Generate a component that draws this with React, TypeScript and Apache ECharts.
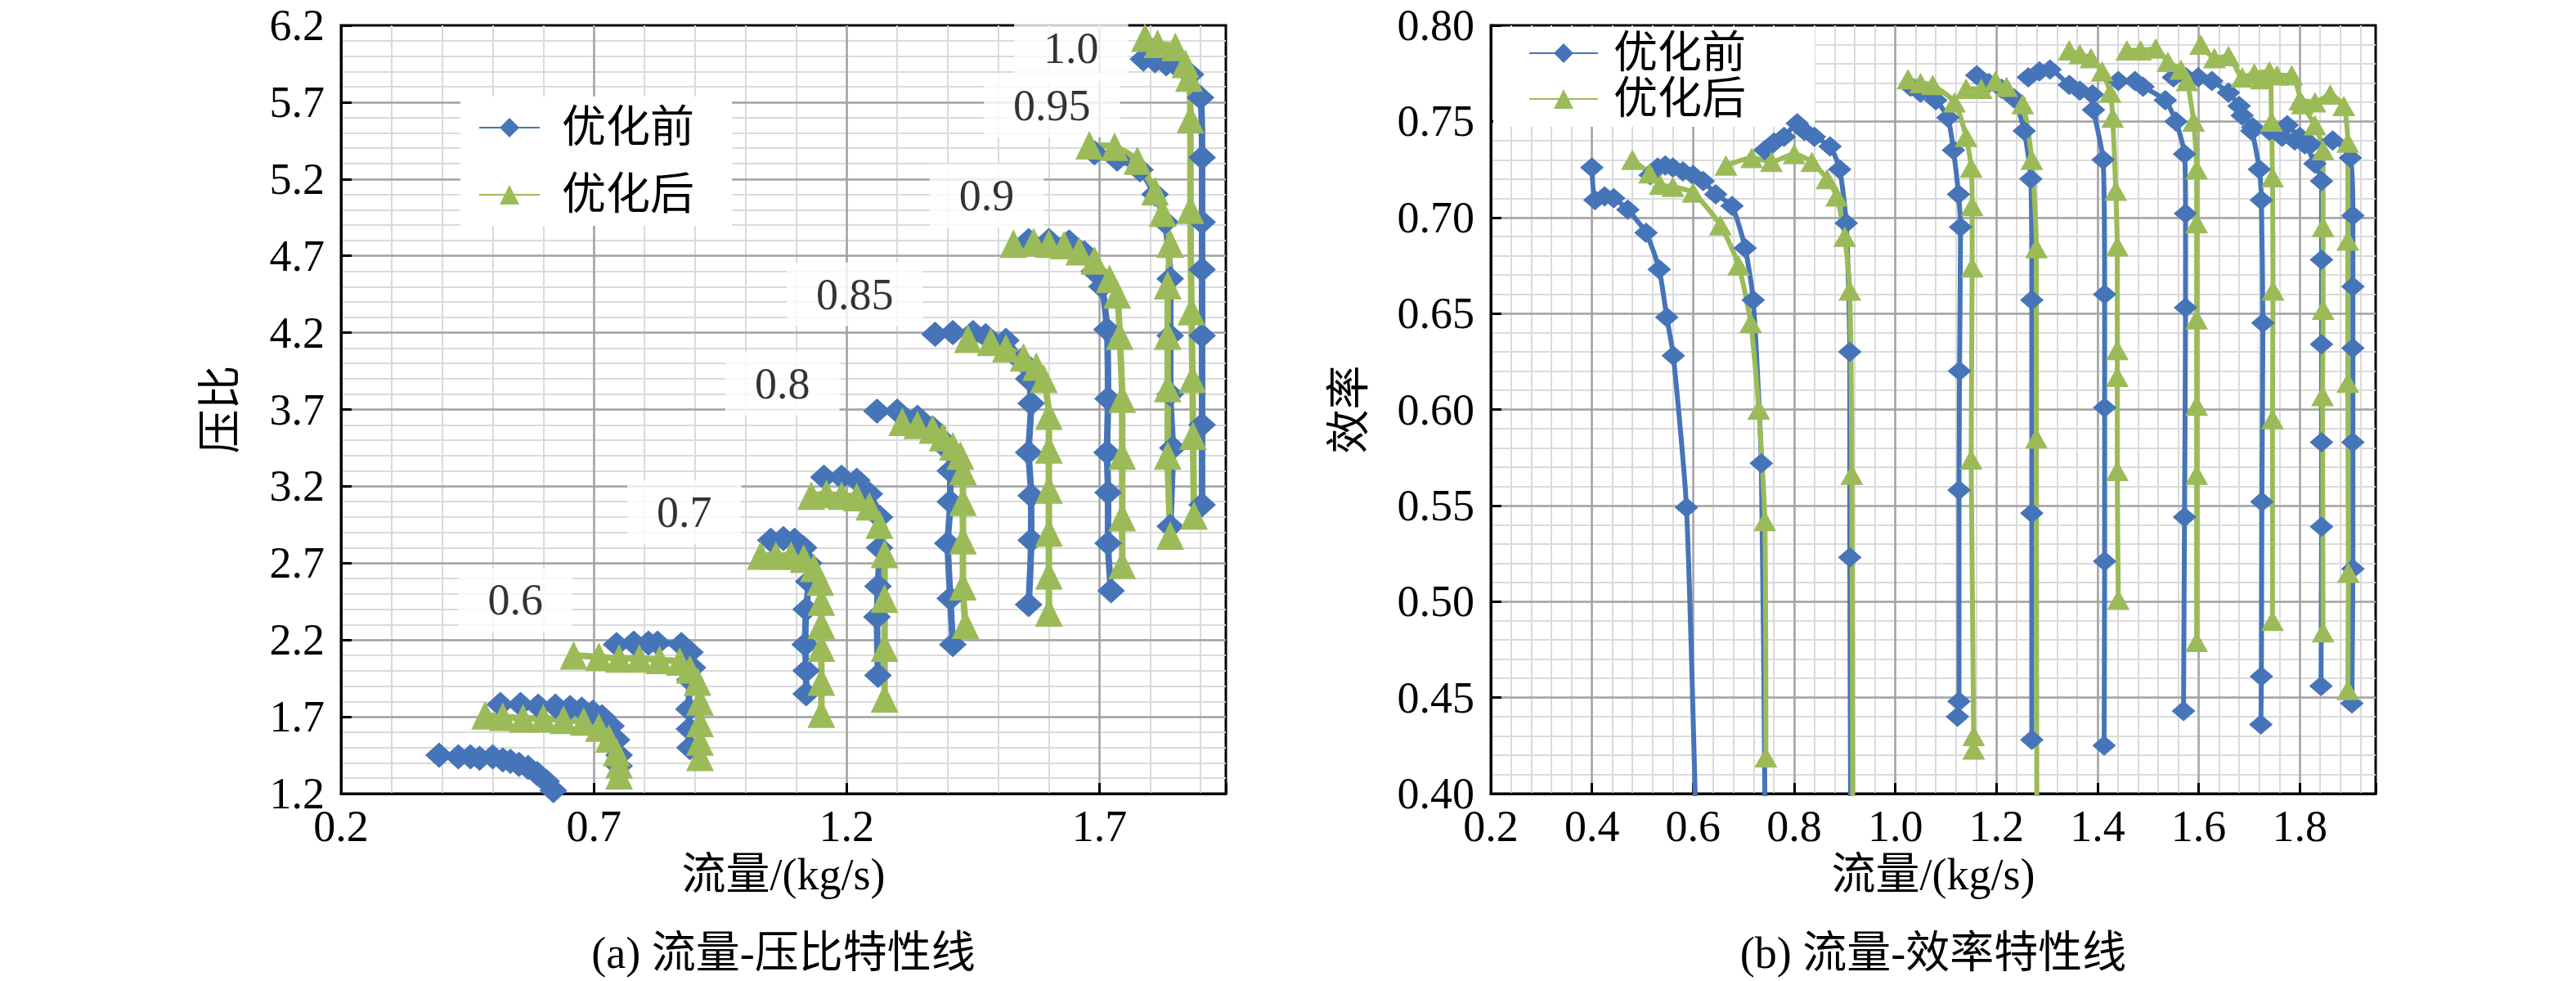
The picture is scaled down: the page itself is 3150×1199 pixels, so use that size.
import React, { useEffect, useRef } from "react";
import * as echarts from "echarts";

// ---------- tick labels ----------
const prFlowTicks = ["0.2", "0.7", "1.2", "1.7"];
const prTicks = ["1.2", "1.7", "2.2", "2.7", "3.2", "3.7", "4.2", "4.7", "5.2", "5.7", "6.2"];
const efFlowTicks = ["0.2", "0.4", "0.6", "0.8", "1.0", "1.2", "1.4", "1.6", "1.8"];
const efTicks = ["0.40", "0.45", "0.50", "0.55", "0.60", "0.65", "0.70", "0.75", "0.80"];

const legendNames = ["优化前", "优化后"];

// ---------- speed-line annotations (flow, pressure ratio) ----------
const speedLabels = ["1.0", "0.95", "0.9", "0.85", "0.8", "0.7", "0.6"];
const speedLabelFlow = [1.644, 1.606, 1.477, 1.216, 1.073, 0.879, 0.545];
const speedLabelPR = [6.05, 5.68, 5.09, 4.45, 3.87, 3.03, 2.46];

// ---------- flow vs pressure ratio : before (blue) ----------
const prA_b = [[0.394,1.45],[0.432,1.44],[0.456,1.44],[0.474,1.43],[0.5,1.44],[0.52,1.42],[0.535,1.41],[0.552,1.39],[0.57,1.37],[0.588,1.33],[0.606,1.28],[0.62,1.22],[0.63,1.15]];
const prB_b = [[0.515,1.78],[0.555,1.78],[0.59,1.77],[0.624,1.77],[0.653,1.76],[0.676,1.75],[0.698,1.73],[0.716,1.7],[0.734,1.64],[0.745,1.55],[0.75,1.45],[0.75,1.38]];
const prC_b = [[0.745,2.17],[0.779,2.18],[0.808,2.18],[0.826,2.18],[0.873,2.17],[0.89,2.12],[0.895,2.02],[0.89,1.94],[0.888,1.75],[0.889,1.62],[0.89,1.5]];
const prD_b = [[1.05,2.85],[1.075,2.86],[1.097,2.85],[1.115,2.8],[1.125,2.7],[1.125,2.58],[1.12,2.4],[1.118,2.17],[1.12,2.0],[1.12,1.85]];
const prE_b = [[1.155,3.26],[1.19,3.26],[1.22,3.24],[1.245,3.15],[1.265,3.0],[1.265,2.8],[1.262,2.55],[1.26,2.35],[1.262,1.97]];
const prF_b = [[1.26,3.69],[1.3,3.69],[1.34,3.65],[1.37,3.58],[1.39,3.5],[1.4,3.44],[1.405,3.3],[1.405,3.1],[1.4,2.83],[1.405,2.47],[1.41,2.17]];
const prG_b = [[1.375,4.19],[1.41,4.2],[1.45,4.2],[1.475,4.18],[1.515,4.15],[1.545,4.02],[1.56,3.9],[1.565,3.74],[1.56,3.42],[1.565,3.14],[1.565,2.85],[1.56,2.43]];
const prH_b = [[1.56,4.8],[1.6,4.8],[1.64,4.79],[1.67,4.72],[1.69,4.6],[1.705,4.5],[1.715,4.22],[1.717,3.77],[1.715,3.42],[1.717,3.16],[1.717,2.83],[1.723,2.52]];
const prI_b = [[1.69,5.37],[1.735,5.33],[1.78,5.26],[1.81,5.1],[1.83,4.92],[1.84,4.55],[1.84,4.18],[1.84,3.8],[1.845,3.45],[1.84,2.94]];
const prJ_b = [[1.787,5.98],[1.81,5.97],[1.832,5.95],[1.852,5.94],[1.88,5.88],[1.9,5.73],[1.903,5.34],[1.903,4.92],[1.903,4.61],[1.903,4.18],[1.903,3.6],[1.903,3.08]];

// ---------- flow vs pressure ratio : after (green) ----------
const prB_g = [[0.485,1.71],[0.52,1.7],[0.56,1.69],[0.6,1.69],[0.64,1.68],[0.68,1.67],[0.71,1.63],[0.73,1.56],[0.745,1.47],[0.75,1.39],[0.75,1.32]];
const prC_g = [[0.66,2.1],[0.71,2.09],[0.75,2.08],[0.79,2.08],[0.83,2.07],[0.87,2.06],[0.89,2.01],[0.905,1.93],[0.91,1.8],[0.91,1.66],[0.91,1.54],[0.91,1.44]];
const prD_g = [[1.03,2.75],[1.06,2.75],[1.09,2.75],[1.115,2.73],[1.135,2.67],[1.148,2.58],[1.15,2.45],[1.15,2.3],[1.15,2.15],[1.15,1.93],[1.15,1.72]];
const prE_g = [[1.13,3.14],[1.16,3.15],[1.19,3.14],[1.22,3.13],[1.245,3.07],[1.265,2.95],[1.275,2.76],[1.275,2.47],[1.275,2.15],[1.275,1.82]];
const prF_g = [[1.31,3.62],[1.34,3.6],[1.37,3.57],[1.39,3.52],[1.41,3.46],[1.425,3.4],[1.43,3.3],[1.43,3.1],[1.43,2.85],[1.43,2.55],[1.435,2.3]];
const prG_g = [[1.44,4.16],[1.485,4.14],[1.515,4.1],[1.55,4.04],[1.575,3.98],[1.59,3.9],[1.6,3.66],[1.6,3.44],[1.6,3.18],[1.6,2.9],[1.6,2.62],[1.6,2.38]];
const prH_g = [[1.53,4.78],[1.57,4.79],[1.6,4.78],[1.63,4.77],[1.66,4.73],[1.69,4.67],[1.72,4.55],[1.735,4.45],[1.74,4.18],[1.745,3.77],[1.745,3.4],[1.745,3.0],[1.745,2.69]];
const prI_g = [[1.68,5.42],[1.73,5.41],[1.775,5.32],[1.81,5.12],[1.825,4.98],[1.84,4.78],[1.835,4.51],[1.835,4.18],[1.835,3.84],[1.835,3.4],[1.84,2.88]];
const prJ_g = [[1.79,6.12],[1.815,6.08],[1.85,6.06],[1.87,5.95],[1.877,5.86],[1.88,5.59],[1.88,5.0],[1.882,4.34],[1.884,3.9],[1.885,3.53],[1.887,3.01]];

// ---------- flow vs efficiency : before (blue) ----------
const ef1_b = [[0.4,0.726],[0.406,0.709],[0.425,0.711],[0.443,0.71],[0.471,0.704],[0.507,0.692],[0.533,0.673],[0.548,0.648],[0.561,0.628],[0.587,0.549],[0.607,0.37]];
const ef2_b = [[0.515,0.722],[0.53,0.726],[0.545,0.727],[0.56,0.726],[0.58,0.724],[0.6,0.722],[0.62,0.719],[0.645,0.712],[0.677,0.706],[0.703,0.684],[0.719,0.657],[0.735,0.572],[0.743,0.37]];
const ef3_b = [[0.742,0.735],[0.76,0.739],[0.78,0.742],[0.806,0.749],[0.82,0.745],[0.84,0.742],[0.871,0.737],[0.89,0.725],[0.903,0.697],[0.91,0.63],[0.91,0.523],[0.912,0.37]];
const ef4_b = [[1.03,0.768],[1.05,0.765],[1.08,0.761],[1.104,0.752],[1.115,0.735],[1.125,0.712],[1.129,0.695],[1.127,0.62],[1.126,0.558],[1.126,0.448],[1.123,0.44]];
const ef5_b = [[1.161,0.774],[1.185,0.77],[1.21,0.767],[1.235,0.762],[1.255,0.745],[1.268,0.72],[1.27,0.657],[1.27,0.546],[1.27,0.428]];
const ef6_b = [[1.263,0.773],[1.285,0.776],[1.306,0.777],[1.344,0.769],[1.365,0.766],[1.39,0.764],[1.392,0.756],[1.411,0.73],[1.414,0.66],[1.414,0.601],[1.414,0.521],[1.413,0.425]];
const ef7_b = [[1.441,0.771],[1.474,0.771],[1.49,0.768],[1.534,0.761],[1.555,0.75],[1.572,0.733],[1.574,0.702],[1.574,0.653],[1.572,0.544],[1.57,0.443]];
const ef8_b = [[1.55,0.773],[1.575,0.773],[1.599,0.773],[1.626,0.771],[1.659,0.765],[1.68,0.758],[1.705,0.745],[1.72,0.725],[1.724,0.709],[1.727,0.645],[1.725,0.552],[1.724,0.461],[1.723,0.436]];
const ef9_b = [[1.686,0.753],[1.707,0.747],[1.74,0.745],[1.765,0.742],[1.79,0.74],[1.81,0.738],[1.83,0.728],[1.843,0.719],[1.843,0.678],[1.843,0.634],[1.843,0.583],[1.843,0.539],[1.842,0.456]];
const ef10_b = [[1.775,0.748],[1.8,0.742],[1.822,0.738],[1.865,0.74],[1.9,0.731],[1.905,0.701],[1.905,0.664],[1.905,0.632],[1.905,0.583],[1.905,0.517],[1.903,0.447]];

// ---------- flow vs efficiency : after (green) ----------
const ef1_g = [[0.48,0.73],[0.514,0.723],[0.535,0.717],[0.56,0.716],[0.6,0.713],[0.654,0.696],[0.69,0.675],[0.714,0.645],[0.73,0.6],[0.742,0.542],[0.744,0.419]];
const ef2_g = [[0.665,0.727],[0.716,0.731],[0.755,0.729],[0.8,0.733],[0.835,0.729],[0.865,0.72],[0.884,0.711],[0.9,0.69],[0.91,0.662],[0.914,0.566],[0.916,0.37]];
const ef3_g = [[1.025,0.772],[1.05,0.77],[1.074,0.769],[1.117,0.76],[1.14,0.742],[1.15,0.726],[1.152,0.706],[1.152,0.674],[1.15,0.574],[1.155,0.43],[1.155,0.423]];
const ef4_g = [[1.14,0.767],[1.17,0.767],[1.198,0.771],[1.22,0.768],[1.252,0.759],[1.27,0.73],[1.279,0.684],[1.279,0.585],[1.28,0.37]];
const ef5_g = [[1.344,0.787],[1.365,0.785],[1.387,0.783],[1.409,0.776],[1.425,0.765],[1.43,0.752],[1.436,0.714],[1.439,0.685],[1.439,0.631],[1.439,0.617],[1.439,0.568],[1.441,0.501]];
const ef6_g = [[1.458,0.787],[1.485,0.787],[1.515,0.788],[1.539,0.781],[1.565,0.777],[1.577,0.771],[1.59,0.75],[1.596,0.725],[1.596,0.697],[1.596,0.647],[1.596,0.602],[1.596,0.566],[1.596,0.479]];
const ef7_g = [[1.604,0.79],[1.631,0.783],[1.659,0.784],[1.686,0.773],[1.71,0.775],[1.74,0.776],[1.744,0.75],[1.746,0.721],[1.747,0.662],[1.746,0.595],[1.746,0.49]];
const ef8_g = [[1.724,0.772],[1.755,0.774],[1.784,0.774],[1.805,0.759],[1.83,0.748],[1.846,0.735],[1.846,0.695],[1.846,0.652],[1.845,0.607],[1.846,0.484]];
const ef9_g = [[1.8,0.761],[1.83,0.76],[1.86,0.764],[1.887,0.758],[1.895,0.739],[1.895,0.688],[1.895,0.614],[1.896,0.515],[1.895,0.454]];

const prBefore = [prA_b, prB_b, prC_b, prD_b, prE_b, prF_b, prG_b, prH_b, prI_b, prJ_b];
const prAfter = [prB_g, prC_g, prD_g, prE_g, prF_g, prG_g, prH_g, prI_g, prJ_g];
const efBefore = [ef1_b, ef2_b, ef3_b, ef4_b, ef5_b, ef6_b, ef7_b, ef8_b, ef9_b, ef10_b];
const efAfter = [ef1_g, ef2_g, ef3_g, ef4_g, ef5_g, ef6_g, ef7_g, ef8_g, ef9_g];

const BLUE = "#4674b8";
const GREEN = "#9bbb59";
const MAJOR = "#a3a3a3";
const MINOR = "#dadada";
const FONT = "Liberation Serif, Times New Roman, Noto Sans CJK SC, serif";
const FS = 54;
const GRID_TOP = 31;
const GRID_H = 939;

function majorAxis(dim: "x" | "y", gridIndex: number, min: number, max: number, interval: number, labels: string[], digits: number, name: string, nameGap: number) {
  return {
    type: "value",
    gridIndex,
    min,
    max,
    interval,
    z: 2,
    name,
    nameLocation: "middle",
    nameGap,
    nameMoveOverlap: false,
    nameRotate: dim === "y" ? 90 : 0,
    nameTextStyle: { fontSize: FS, fontFamily: FONT, color: "#000" },
    axisLine: { show: true, onZero: false, lineStyle: { color: "#000", width: 3 } },
    axisTick: { show: true, inside: true, length: 13, lineStyle: { color: "#000", width: 3 } },
    axisLabel: {
      show: true,
      fontSize: FS,
      fontFamily: FONT,
      color: "#000",
      lineHeight: 44,
      margin: dim === "x" ? 18 : 20,
      hideOverlap: false,
      formatter: (v: number) => {
        const s = v.toFixed(digits);
        return labels.includes(s) ? s : "";
      },
    },
    splitLine: { show: true, showMinLine: false, showMaxLine: false, lineStyle: { color: MAJOR, width: 2.5 } },
  };
}

function minorAxis(gridIndex: number, min: number, max: number, interval: number) {
  return {
    type: "value",
    gridIndex,
    min,
    max,
    interval,
    z: 1,
    axisLine: { show: false },
    axisTick: { show: false },
    axisLabel: { show: false },
    splitLine: { show: true, showMinLine: false, showMaxLine: false, lineStyle: { color: MINOR, width: 2 } },
  };
}

function curveSeries(data: number[][], before: boolean, xi: number, yi: number, big: boolean) {
  const color = before ? BLUE : GREEN;
  const size = big ? (before ? [34, 31] : [34, 35]) : (before ? [29, 25] : [28, 25]);
  return {
    type: "line",
    name: before ? legendNames[0] : legendNames[1],
    xAxisIndex: xi,
    yAxisIndex: yi,
    data,
    symbol: before ? "diamond" : "triangle",
    symbolSize: size,
    showAllSymbol: true,
    smooth: 0.2,
    clip: true,
    z: 5,
    lineStyle: { color, width: big ? 8 : 6 },
    itemStyle: { color },
    emphasis: { disabled: true },
  };
}

export default function App() {
  const ref = useRef<HTMLDivElement>(null);
  useEffect(() => {
    if (!ref.current) return;
    const chart = echarts.init(ref.current, null, { renderer: "svg" });
    const series: any[] = [];
    prBefore.forEach((d) => series.push(curveSeries(d, true, 0, 0, true)));
    prAfter.forEach((d) => series.push(curveSeries(d, false, 0, 0, true)));
    efBefore.forEach((d) => series.push(curveSeries(d, true, 2, 2, false)));
    efAfter.forEach((d) => series.push(curveSeries(d, false, 2, 2, false)));
    series.push({
      type: "scatter",
      name: "speed",
      xAxisIndex: 0,
      yAxisIndex: 0,
      z: 4,
      silent: true,
      symbolSize: 1,
      itemStyle: { color: "rgba(0,0,0,0)" },
      data: speedLabels.map((t, i) => ({ name: t, value: [speedLabelFlow[i], speedLabelPR[i]] })),
      label: {
        show: true,
        position: "inside",
        formatter: "{b}",
        fontSize: FS,
        fontFamily: FONT,
        color: "#000",
        backgroundColor: "#fff",
        padding: [12, 36],
      },
    });

    const legendBase = {
      data: legendNames,
      orient: "vertical",
      selectedMode: false,
      backgroundColor: "#fff",
      itemHeight: 30,
      textStyle: { fontSize: FS, fontFamily: FONT, color: "#000", lineHeight: 56 },
    };

    chart.setOption({
      animation: false,
      backgroundColor: "#fff",
      grid: [
        { left: 417, top: GRID_TOP, width: 1082, height: GRID_H, show: true, borderColor: "#000", borderWidth: 3, backgroundColor: "#fff", containLabel: false, outerBoundsMode: "none" },
        { left: 1823, top: GRID_TOP, width: 1082, height: GRID_H, show: true, borderColor: "#000", borderWidth: 3, backgroundColor: "#fff", containLabel: false, outerBoundsMode: "none" },
      ],
      xAxis: [
        majorAxis("x", 0, 0.2, 1.95, 0.5, prFlowTicks, 1, "流量/(kg/s)", 72),
        minorAxis(0, 0.2, 1.95, 0.1),
        majorAxis("x", 1, 0.2, 1.95, 0.2, efFlowTicks, 1, "流量/(kg/s)", 72),
        minorAxis(1, 0.2, 1.95, 0.04),
      ],
      yAxis: [
        majorAxis("y", 0, 1.2, 6.2, 0.5, prTicks, 1, "压比", 120),
        minorAxis(0, 1.2, 6.2, 0.1),
        majorAxis("y", 1, 0.4, 0.8, 0.05, efTicks, 2, "效率", 146),
        minorAxis(1, 0.4, 0.8, 0.01),
      ],
      legend: [
        { ...legendBase, left: 563, top: 118, itemWidth: 74, itemGap: 26, padding: [10, 46, 10, 22], textStyle: { ...legendBase.textStyle, padding: [0, 0, 0, 22] } },
        { ...legendBase, left: 1826, top: 33, itemWidth: 84, itemGap: 0, padding: [4, 84, 6, 43], textStyle: { ...legendBase.textStyle, padding: [0, 0, 0, 14] } },
      ],
      graphic: [
        { type: "text", x: 958, y: 1165, silent: true, style: { text: "(a) 流量-压比特性线", fontSize: FS, fontFamily: FONT, fill: "#000", align: "center", verticalAlign: "middle" } },
        { type: "text", x: 2364, y: 1165, silent: true, style: { text: "(b) 流量-效率特性线", fontSize: FS, fontFamily: FONT, fill: "#000", align: "center", verticalAlign: "middle" } },
      ],
      series,
    });
    return () => chart.dispose();
  }, []);
  return (
    <div
      ref={ref}
      style={{ position: "absolute", left: 0, top: 0, width: 3150, height: 1199, background: "#fff" }}
    />
  );
}
